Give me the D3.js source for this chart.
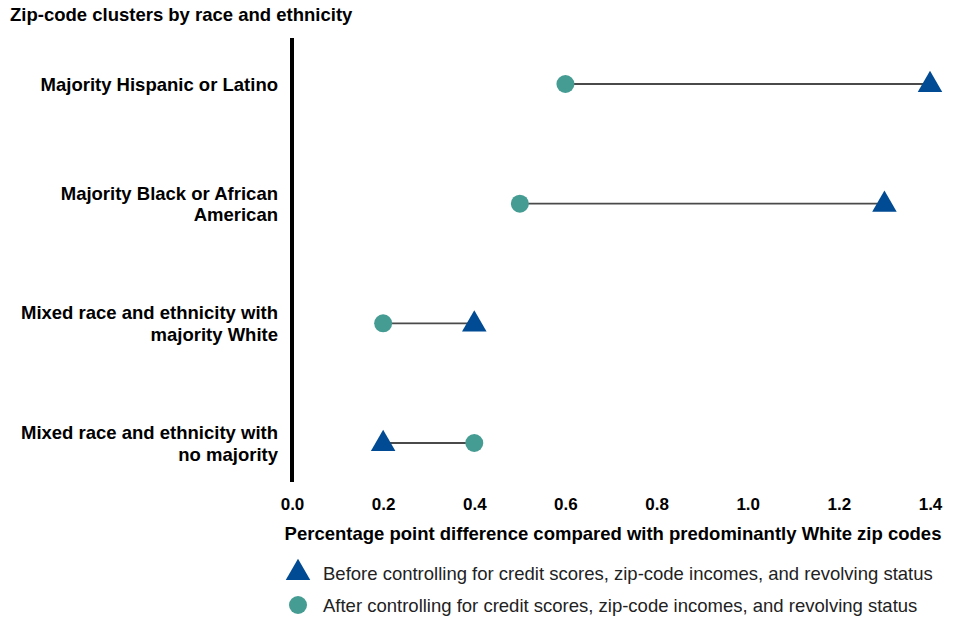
<!DOCTYPE html>
<html>
<head>
<meta charset="utf-8">
<script src="https://cdn.jsdelivr.net/npm/d3@7"></script>
<style>
  body { margin: 0; background: #fff; }
  svg { font-family: "Liberation Sans", Arial, sans-serif; }
</style>
</head>
<body>
<svg id="chart" width="959" height="618"></svg>
<script>
var width = 959,
    height = 618;

var categories = [
    ["Majority Hispanic or Latino"],
    ["Majority Black or African", "American"],
    ["Mixed race and ethnicity with", "majority White"],
    ["Mixed race and ethnicity with", "no majority"]
];
var beforeValues = [1.4, 1.3, 0.4, 0.2];
var afterValues = [0.6, 0.5, 0.2, 0.4];
var xTicks = [0, 0.2, 0.4, 0.6, 0.8, 1.0, 1.2, 1.4];
var legendLabels = [
    "Before controlling for credit scores, zip-code incomes, and revolving status",
    "After controlling for credit scores, zip-code incomes, and revolving status"
];

var blue = "#004b93",
    teal = "#459c93";

var svg = d3.select("#chart");

var x = d3.scaleLinear()
    .domain([0, 1.4])
    .range([292, 930]);

var y = d3.scalePoint()
    .domain(d3.range(categories.length))
    .range([84, 443]);

var triangle = d3.symbol().type(d3.symbolTriangle).size(260);

// title
svg.append("text")
    .attr("x", 10)
    .attr("y", 21)
    .style("font-size", "18.5px")
    .style("font-weight", "bold")
    .text("Zip-code clusters by race and ethnicity");

// category labels
svg.selectAll(".cat")
    .data(categories)
    .enter()
    .append("text")
        .attr("class", "cat")
        .attr("text-anchor", "end")
        .style("font-size", "18.5px")
        .style("font-weight", "bold")
        .each(function(lines, i) {
            var t = d3.select(this);
            var y0 = y(i) - (lines.length - 1) * 10.5 + 6.5;
            lines.forEach(function(line, j) {
                t.append("tspan")
                    .attr("x", 278)
                    .attr("y", y0 + j * 21.5)
                    .text(line);
            });
        });

// vertical axis line
svg.append("line")
    .attr("x1", x(0))
    .attr("x2", x(0))
    .attr("y1", 38)
    .attr("y2", 482)
    .attr("stroke", "#000")
    .attr("stroke-width", 4);

// x axis tick labels
var xAxis = svg.append("g")
    .attr("transform", "translate(0,495)")
    .call(d3.axisBottom(x).tickValues(xTicks).tickFormat(d3.format(".1f")).tickSize(0));
xAxis.select(".domain").remove();
xAxis.selectAll("text")
    .attr("dy", "0.71em")
    .style("font-family", "'Liberation Sans Narrow', 'Liberation Sans', Arial, sans-serif")
    .style("font-size", "17px")
    .style("font-weight", "bold")
    .attr("fill", "#000");

svg.append("text")
    .attr("x", 613)
    .attr("y", 540)
    .attr("text-anchor", "middle")
    .style("font-size", "18.5px")
    .style("font-weight", "bold")
    .text("Percentage point difference compared with predominantly White zip codes");

// connecting lines
svg.selectAll(".conn")
    .data(categories)
    .enter()
    .append("line")
        .attr("class", "conn")
        .attr("x1", function(d, i) { return x(beforeValues[i]); })
        .attr("x2", function(d, i) { return x(afterValues[i]); })
        .attr("y1", function(d, i) { return y(i); })
        .attr("y2", function(d, i) { return y(i); })
        .attr("stroke", "#4a4a4a")
        .attr("stroke-width", 1.8);

// after: circles
svg.selectAll(".after")
    .data(afterValues)
    .enter()
    .append("circle")
        .attr("class", "after")
        .attr("cx", function(d) { return x(d); })
        .attr("cy", function(d, i) { return y(i); })
        .attr("r", 9)
        .attr("fill", teal);

// before: triangles
svg.selectAll(".before")
    .data(beforeValues)
    .enter()
    .append("path")
        .attr("class", "before")
        .attr("d", triangle)
        .attr("transform", function(d, i) { return "translate(" + x(d) + "," + (y(i) + 1) + ")"; })
        .attr("fill", blue);

// legend
var legend = svg.append("g");
legend.append("path")
    .attr("d", triangle)
    .attr("transform", "translate(298,573)")
    .attr("fill", blue);
legend.append("circle")
    .attr("cx", 298)
    .attr("cy", 605)
    .attr("r", 9)
    .attr("fill", teal);
legend.selectAll("text")
    .data(legendLabels)
    .enter()
    .append("text")
        .attr("x", 323)
        .attr("y", function(d, i) { return 580 + i * 32; })
        .style("font-size", "18.5px")
        .attr("fill", "#222")
        .text(function(d) { return d; });
</script>
</body>
</html>
